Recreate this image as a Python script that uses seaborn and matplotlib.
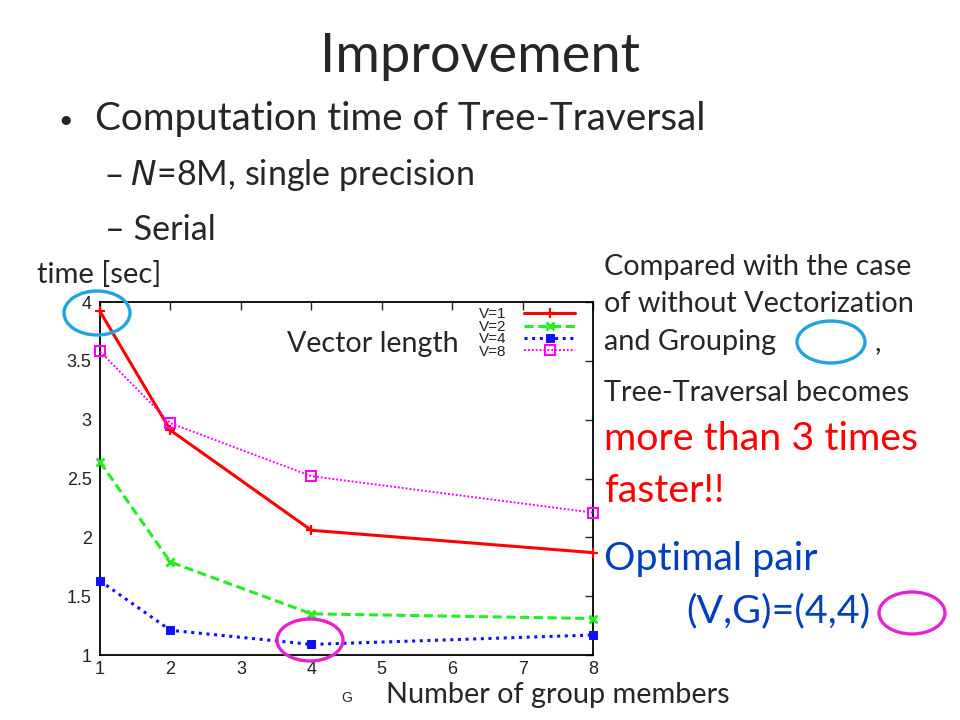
import pandas as pd
import numpy as np
import matplotlib
matplotlib.use('Agg')
import matplotlib.pyplot as plt
import seaborn as sns
from matplotlib.patches import Ellipse

# valores (tempo em segundos)
group_members = [1, 2, 4, 8]
time_v1 = [3.92, 2.91, 2.06, 1.87]
time_v2 = [2.64, 1.79, 1.35, 1.31]
time_v4 = [1.63, 1.21, 1.09, 1.17]
time_v8 = [3.58, 2.97, 2.52, 2.21]
series_labels = ['V=1', 'V=2', 'V=4', 'V=8']

df = pd.DataFrame({
    'G': group_members * 4,
    'time': time_v1 + time_v2 + time_v4 + time_v8,
    'V': [s for s in series_labels for _ in group_members],
})

sns.set_style('white')
plt.rcParams['font.family'] = ['Lato', 'DejaVu Sans']

fig = plt.figure(figsize=(9.6, 7.2), dpi=100)
ax = fig.add_axes([100 / 960, 1 - 655 / 720, 493 / 960, 353 / 720])

# estilo de cada série (imitando o gnuplot)
estilos = {
    'V=1': dict(color='#ff0000', linestyle='-', marker='+', markersize=7, mew=1.6, mec='#ff0000', lw=2.2),
    'V=2': dict(color='#22ee22', linestyle=(0, (3, 1.5)), marker='x', markersize=6, mew=2, mec='#22ee22', lw=2.2),
    'V=4': dict(color='#1010ff', linestyle=(0, (1, 1.5)), marker='s', markersize=6, mec='#1010ff', lw=2.2),
    'V=8': dict(color='#ff00ff', linestyle=(0, (1, 1)), marker='s', markersize=7, mfc='none', mew=1.5,
                mec='#ff00ff', lw=1.4),
}

for v in series_labels:
    sub = df[df['V'] == v]
    sns.lineplot(data=sub, x='G', y='time', ax=ax, label=v, clip_on=False, zorder=3, **estilos[v])

ax.set_xlim(1, 8)
ax.set_ylim(1, 4)
ax.set_xticks(range(1, 9))
ax.set_yticks([1, 1.5, 2, 2.5, 3, 3.5, 4])
ax.set_yticklabels(['1', '1.5', '2', '2.5', '3', '3.5', '4'])
ax.tick_params(direction='in', length=6, width=1, top=True, right=True,
               labelsize=13, labelcolor='#222222', pad=6)
ax.tick_params(axis='x', pad=4)
for lab in ax.get_xticklabels() + ax.get_yticklabels():
    lab.set_family(['Liberation Sans', 'DejaVu Sans'])
ax.set_xlabel('G', fontsize=10, family=['Liberation Sans'], labelpad=10)
ax.set_ylabel('')
for s in ax.spines.values():
    s.set_color('black')
    s.set_linewidth(1.3)

leg = ax.legend(loc='upper right', bbox_to_anchor=(0.985, 1.015), frameon=False,
                markerfirst=False, fontsize=11, handlelength=3.3, labelspacing=-0.1,
                handletextpad=1.2, borderpad=0.2)
for t in leg.get_texts():
    t.set_family(['Liberation Sans', 'DejaVu Sans'])
    t.set_ha('right')

# textos do slide
def px(x, y):
    return x / 960, 1 - y / 720

fig.text(*px(480, 72), 'Improvement', ha='center', va='baseline', fontsize=39)
fig.text(*px(58, 128), '•', ha='left', va='baseline', fontsize=18)
fig.text(*px(95, 130), 'Computation time of Tree-Traversal', ha='left', va='baseline', fontsize=27.8)
fig.text(*px(105, 185), '– $\\it{N}$=8M, single precision', ha='left', va='baseline', fontsize=24.6)
fig.text(*px(105, 240), '– Serial', ha='left', va='baseline', fontsize=24.6)
fig.text(*px(37, 283), 'time [sec]', ha='left', va='baseline', fontsize=21)

fs_r = 20.8
fig.text(*px(604, 275), 'Compared with the case', ha='left', va='baseline', fontsize=fs_r)
fig.text(*px(604, 312), 'of without Vectorization', ha='left', va='baseline', fontsize=fs_r)
fig.text(*px(604, 350), 'and Grouping', ha='left', va='baseline', fontsize=fs_r)
fig.text(*px(874, 350), ',', ha='left', va='baseline', fontsize=fs_r)
fig.text(*px(604, 401), 'Tree-Traversal becomes', ha='left', va='baseline', fontsize=fs_r)
fs_b = 28.4
fig.text(*px(604, 450), 'more than 3 times', ha='left', va='baseline', fontsize=fs_b, color='#ff0000')
fig.text(*px(604, 502), 'faster!!', ha='left', va='baseline', fontsize=fs_b, color='#ff0000')
fig.text(*px(604, 570), 'Optimal pair', ha='left', va='baseline', fontsize=fs_b, color='#0040c0')
fig.text(*px(686, 622), '(V,G)=(4,4)', ha='left', va='baseline', fontsize=fs_b, color='#0040c0')

fig.text(*px(287, 352), 'Vector length', ha='left', va='baseline', fontsize=20.6)
fig.text(*px(386, 703), 'Number of group members', ha='left', va='baseline', fontsize=20.8)

# elipses de destaque
for (cx, cy, w, h, cor) in [(97, 313, 66, 44, '#1ea5e0'), (831, 342, 68, 42, '#1ea5e0'),
                            (310, 640, 66, 42, '#e622d0'), (912, 613, 66, 42, '#e622d0')]:
    fig.add_artist(Ellipse(px(cx, cy), w / 960, h / 720, transform=fig.transFigure,
                           fill=False, edgecolor=cor, lw=2.4, zorder=10))

fig.savefig('out.png', dpi=100)
